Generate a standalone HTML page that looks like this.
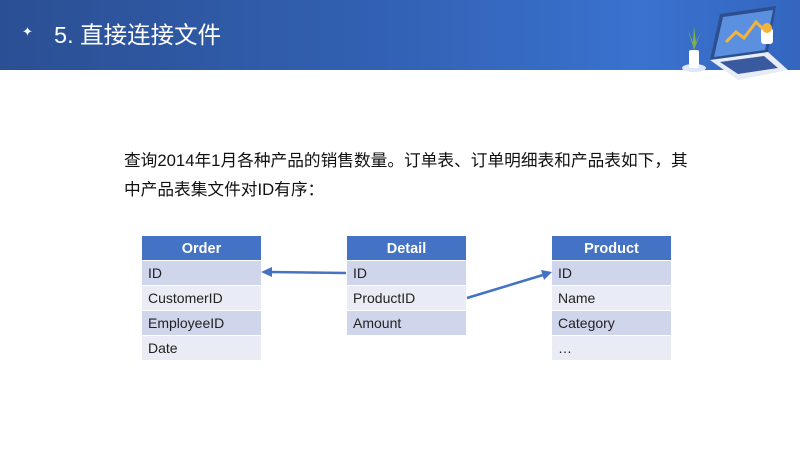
<!DOCTYPE html>
<html><head><meta charset="utf-8"><style>
body{margin:0;width:800px;height:450px;overflow:hidden;background:#fff;position:relative;font-family:"Liberation Sans","Noto Sans CJK SC",sans-serif}
.hdr{position:absolute;left:0;top:0;width:800px;height:70px;background:linear-gradient(90deg,#2b4f93 0%,#3262b5 50%,#3a72cf 80%,#3466bf 100%)}
.title{position:absolute;left:54px;top:16px;color:#fff;font-size:23.5px}
.star{position:absolute;left:22px;top:24px;color:#fff;font-size:13px}
.p{position:absolute;left:124px;font-size:16.7px;color:#111;white-space:nowrap}
.t{position:absolute;width:119px}
.t div{height:24px;line-height:25px;font-size:14px;padding-left:6px;color:#222;margin-bottom:1px}
.t .h{background:#4472c4;color:#fff;font-weight:bold;text-align:center;padding:0;font-size:14.5px;line-height:27px}
.a{background:#cfd5ea}.b{background:#e9ebf5}
</style></head><body>
<div class="hdr"></div>
<div class="star">✦</div>
<div class="title">5. 直接连接文件</div>
<svg style="position:absolute;left:676px;top:2px" width="120" height="80">
<ellipse cx="18" cy="66" rx="12" ry="4" fill="#dfe6f5"/>
<rect x="13" y="48" width="10" height="18" rx="2" fill="#fff"/>
<path d="M18 48 L12 28 L17 40 L18 24 L20 40 L25 30 Z" fill="#7bb04a"/>
<polygon points="34,58 44,12 100,4 92,50" fill="#2e4f8f"/>
<polygon points="38,55 47,15 97,8 89,48" fill="#5b8fe0"/>
<polyline points="50,40 60,30 68,36 80,20 88,28" stroke="#f3b43a" stroke-width="3" fill="none"/>
<polygon points="34,58 92,50 112,68 62,78" fill="#e8ecf4"/>
<polygon points="44,60 88,54 102,66 62,72" fill="#3a5aa0"/>
<rect x="85" y="26" width="12" height="16" rx="3" fill="#fff"/>
<circle cx="91" cy="26" r="5" fill="#f3b43a"/>
</svg>
<div class="p" style="top:147px">查询2014年1月各种产品的销售数量。订单表、订单明细表和产品表如下，其</div>
<div class="p" style="top:176px">中产品表集文件对ID有序：</div>
<div class="t" style="left:142px;top:236px"><div class="h">Order</div><div class="a">ID</div><div class="b">CustomerID</div><div class="a">EmployeeID</div><div class="b">Date</div></div>
<div class="t" style="left:347px;top:236px"><div class="h">Detail</div><div class="a">ID</div><div class="b">ProductID</div><div class="a">Amount</div></div>
<div class="t" style="left:552px;top:236px"><div class="h">Product</div><div class="a">ID</div><div class="b">Name</div><div class="a">Category</div><div class="b">…</div></div>
<svg style="position:absolute;left:0;top:0" width="800" height="450">
<line x1="346" y1="273" x2="270" y2="272" stroke="#4472c4" stroke-width="2.5"/>
<polygon points="261,272 272,267 272,277" fill="#4472c4"/>
<line x1="467" y1="298" x2="543" y2="275" stroke="#4472c4" stroke-width="2.5"/>
<polygon points="552,272 541,270 544,280" fill="#4472c4"/>
</svg>
</body></html>
